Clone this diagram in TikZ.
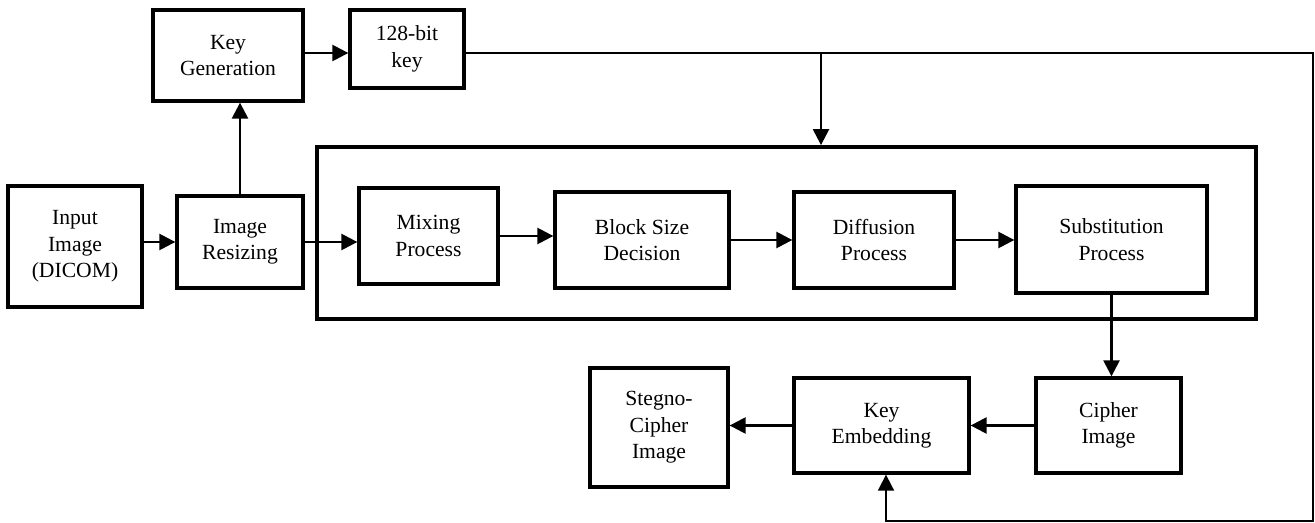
\documentclass[tikz,border=0pt]{standalone}
\usepackage{fontspec}
\setmainfont{Liberation Serif}
\usetikzlibrary{arrows.meta,positioning}

\begin{document}
\begin{tikzpicture}[->,>={Triangle[length=0.32cm,width=0.32cm]},line width=1.4pt,
x=0.02cm,y=-0.02cm]
\tikzstyle{box}=[draw,line width=1.9pt,align=center,inner sep=0pt,font=\fontsize{12.3}{15}\selectfont]
\useasboundingbox (0,0) rectangle (1315,523);

\node[box,minimum width=2.68cm,minimum height=2.42cm] (input)   at (75,246.5)   {Input\\Image\\(DICOM)};
\node[box,minimum width=2.52cm,minimum height=1.84cm] (resize)  at (240,242)    {Image\\Resizing};
\node[box,minimum width=3.0cm, minimum height=1.82cm] (keygen)  at (228,55.5)   {Key\\Generation};
\node[box,minimum width=2.28cm,minimum height=1.56cm] (key128)  at (407,49)     {128-bit\\key};
\node[draw,line width=2.2pt,minimum width=18.78cm,minimum height=3.44cm] (frame) at (786.5,233) {};
\node[box,minimum width=2.78cm,minimum height=1.92cm] (mixing)  at (428.5,236)  {Mixing\\Process};
\node[box,minimum width=3.48cm,minimum height=1.92cm] (blocksz) at (642,240)    {Block Size\\Decision};
\node[box,minimum width=3.2cm, minimum height=1.92cm] (diffuse) at (874,240)    {Diffusion\\Process};
\node[box,minimum width=3.82cm,minimum height=2.14cm] (subst)   at (1111.5,239.5) {Substitution\\Process};
\node[box,minimum width=2.9cm, minimum height=1.9cm]  (cipher)  at (1108.5,425.5) {Cipher\\Image};
\node[box,minimum width=3.5cm, minimum height=1.9cm]  (keyemb)  at (881.5,425.5)  {Key\\Embedding};
\node[box,minimum width=2.76cm,minimum height=2.38cm] (stegno)  at (659,427.5)  {Stegno-\\Cipher\\Image};

\coordinate (branch) at (821,53);
\coordinate (topright) at (1313,53);
\coordinate (botright) at (1313,521);
\coordinate (botleft) at (886,521);

\path
(input.east |- resize) edge (resize.west)
(resize.north)         edge (resize.north |- keygen.south)
(keygen.east |- branch) edge (key128.west |- branch)
(resize.east)          edge (resize.east -| mixing.west)
(mixing.east)          edge (mixing.east -| blocksz.west)
(blocksz.east)         edge (diffuse.west)
(diffuse.east)         edge (diffuse.east -| subst.west)
(subst.south)          edge (subst.south |- cipher.north)
(cipher.west)          edge (keyemb.east)
(keyemb.west)          edge (keyemb.west -| stegno.east)
(branch)               edge (branch |- frame.north);

\draw[line width=1pt] (key128.east |- topright) -- (topright) -- (botright) -- (botleft) -- (botleft |- keyemb.south);
\end{tikzpicture}
\end{document}
